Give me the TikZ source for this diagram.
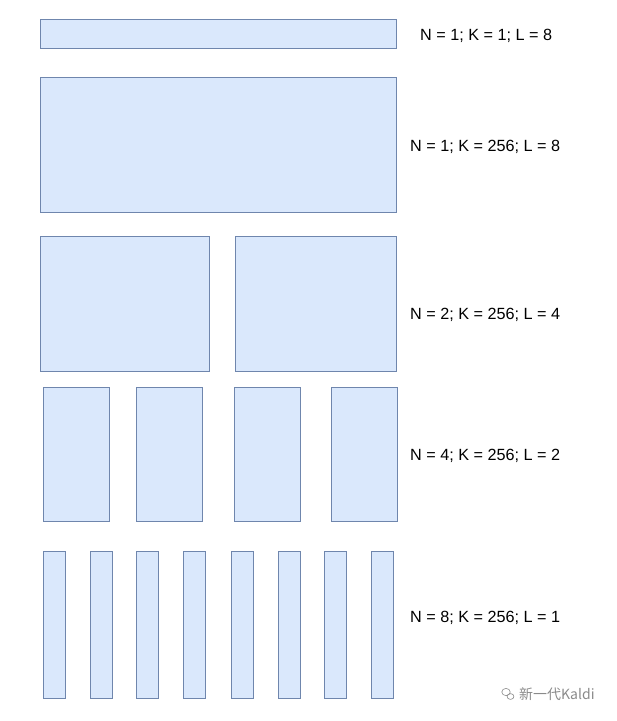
\documentclass[tikz,border=0pt]{standalone}
\usepackage{fontspec}
\setmainfont{Liberation Sans}
\newfontfamily\cjkfont{Noto Sans CJK SC}
\definecolor{boxfill}{HTML}{DAE8FC}
\definecolor{boxline}{HTML}{6F86AD}
\definecolor{wmgray}{HTML}{8A8A8A}
\begin{document}
\begin{tikzpicture}[x=1pt,y=-1pt,
  blk/.style={fill=boxfill,draw=boxline,line width=1pt},
  lbl/.style={font=\fontsize{16.2}{19}\selectfont,anchor=west,inner sep=0pt}]
\useasboundingbox (0,0) rectangle (617,721);
% row 1
\path[blk] (40,19) rectangle (396,48) node[pos=0.5] (r1) {};
\node[lbl] (t1) at (420,35.5) {N = 1; K = 1; L = 8};
% row 2
\path[blk] (40,77) rectangle (396,212) node[pos=0.5] (r2) {};
\node[lbl] (t2) at (410,146.5) {N = 1; K = 256; L = 8};
% row 3
\path[blk] (40,236) rectangle (209,371) node[pos=0.5] (r3a) {};
\path[blk] (235,236) rectangle (396,371) node[pos=0.5] (r3b) {};
\node[lbl] (t3) at (410,314.5) {N = 2; K = 256; L = 4};
% row 4
\foreach \a/\b in {43/109,136/202,234/300,331/397}{
  \path[blk] (\a,387) rectangle (\b,521);
}
\node[lbl] (t4) at (410,455.5) {N = 4; K = 256; L = 2};
% row 5
\foreach \a in {43,90,136,183,231,278,324,371}{
  \path[blk] (\a,551) rectangle (\a+22,698);
}
\node[lbl] (t5) at (410,617.5) {N = 8; K = 256; L = 1};
% watermark
\node[anchor=west,inner sep=0pt,text=wmgray,font=\cjkfont\fontsize{14}{16}\selectfont] (wm) at (519,694) {新一代Kaldi};
\draw[wmgray,line width=0.6pt] (506,692) ellipse (4.2 and 3.6);
\draw[wmgray,line width=0.6pt] (510.5,696.5) ellipse (3.4 and 2.9);
\end{tikzpicture}
\end{document}
